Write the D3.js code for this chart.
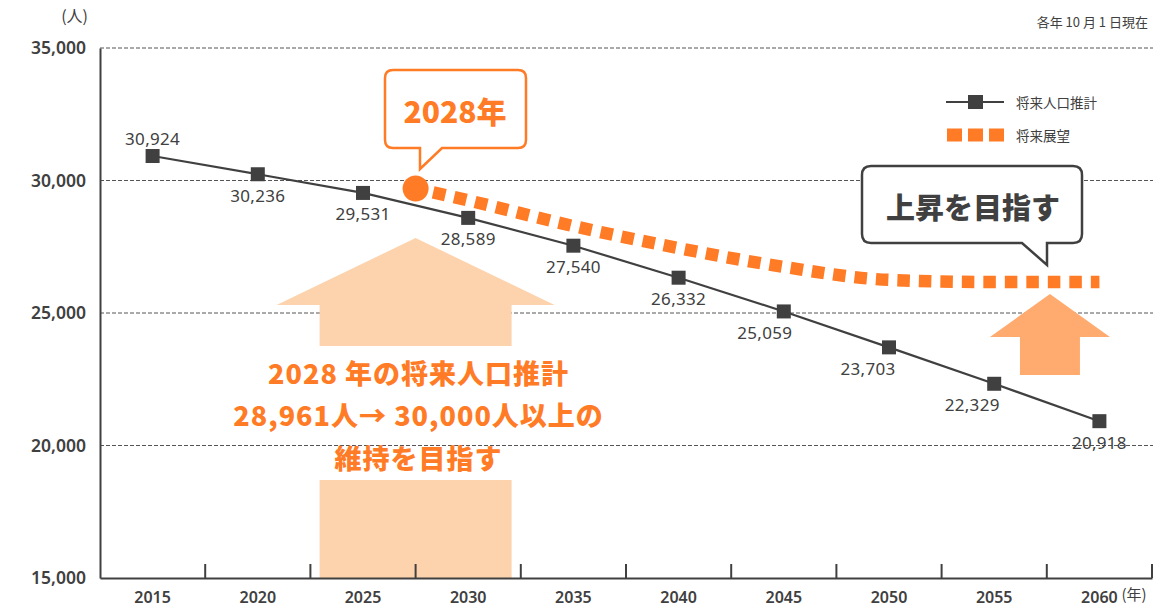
<!DOCTYPE html>
<html>
<head>
<meta charset="utf-8">
<script src="https://cdn.jsdelivr.net/npm/d3@7"></script>
<style>
  body { margin: 0; background: #fff; }
  text { font-family: "Noto Sans", "Noto Sans CJK JP", sans-serif; }
  .jp { font-family: "Noto Sans CJK JP", sans-serif; }
</style>
</head>
<body>
<div id="chart"></div>
<script>
// 将来人口推計 (black line)
const years = [2015, 2020, 2025, 2030, 2035, 2040, 2045, 2050, 2055, 2060];
const estimate = [30924, 30236, 29531, 28589, 27540, 26332, 25059, 23703, 22329, 20918];

// 将来展望 (orange dotted)
const outlookYears = [2027.5, 2030, 2035, 2040, 2045, 2050, 2055, 2060];
const outlook = [29700, 29250, 28280, 27450, 26740, 26250, 26170, 26170];

const yTicks = [15000, 20000, 25000, 30000, 35000];

const darkGray = "#404040";
const orange = "#ff7b25";

const width = 1153, height = 607;
const margin = { top: 48, right: 1, bottom: 29, left: 100 };

const svg = d3.select("#chart")
    .append("svg")
    .attr("width", width)
    .attr("height", height);

const x = d3.scaleBand()
    .domain(years)
    .range([margin.left, width - margin.right]);
const xc = d => x(d) + x.bandwidth() / 2;
// continuous year position for the outlook series
const xYear = d3.scaleLinear()
    .domain([years[0], years[years.length - 1]])
    .range([xc(years[0]), xc(years[years.length - 1])]);

const y = d3.scaleLinear()
    .domain([15000, 35000])
    .range([height - margin.bottom, margin.top]);

// gridlines
svg.append("g")
    .selectAll("line")
    .data(yTicks.slice(1))
    .join("line")
    .attr("x1", margin.left)
    .attr("x2", width)
    .attr("y1", d => y(d))
    .attr("y2", d => y(d))
    .attr("stroke", "#555")
    .attr("stroke-width", 1)
    .attr("stroke-dasharray", "4,2");

// big up arrows
const arrowL = xYear(2027.5);
const leftArrow = svg.append("g").attr("fill", "#fdd3ad");
leftArrow.append("path")
    .attr("d", `M${arrowL},238 L${arrowL + 139},305 L${arrowL + 96},305 L${arrowL + 96},346 L${arrowL - 96},346 L${arrowL - 96},305 L${arrowL - 139},305 Z`);
leftArrow.append("rect")
    .attr("x", arrowL - 96)
    .attr("y", 480)
    .attr("width", 192)
    .attr("height", y(15000) - 480);

const arrowR = xYear(2057.65);
svg.append("path")
    .attr("fill", "#ffab70")
    .attr("d", `M${arrowR},294 L${arrowR + 60},337 L${arrowR + 30},337 L${arrowR + 30},375 L${arrowR - 30},375 L${arrowR - 30},337 L${arrowR - 60},337 Z`);

// axes
const yAxis = svg.append("g")
    .attr("transform", `translate(${margin.left},0)`)
    .call(d3.axisLeft(y).tickValues(yTicks).tickFormat(d3.format(",")).tickSize(0).tickPadding(14));
yAxis.select(".domain").attr("stroke", darkGray).attr("stroke-width", 2);
yAxis.selectAll("text")
    .attr("fill", darkGray)
    .style("font-size", "17.5px")
    .style("font-weight", "600");

const xAxis = svg.append("g")
    .attr("transform", `translate(0,${y(15000)})`)
    .call(d3.axisBottom(x).tickSize(0).tickPadding(14));
xAxis.select(".domain").attr("stroke", darkGray).attr("stroke-width", 2);
xAxis.selectAll("text")
    .attr("fill", darkGray)
    .style("font-size", "16px")
    .style("font-weight", "600");

// boundary ticks
svg.append("g")
    .selectAll("line")
    .data(years)
    .join("line")
    .attr("x1", d => x(d) + x.bandwidth())
    .attr("x2", d => x(d) + x.bandwidth())
    .attr("y1", y(15000) - 14)
    .attr("y2", y(15000))
    .attr("stroke", darkGray)
    .attr("stroke-width", 2);

svg.append("text")
    .attr("class", "jp")
    .attr("x", xc(2060) + 22)
    .attr("y", y(15000) + 22)
    .attr("fill", darkGray)
    .style("font-size", "15px")
    .text("(年)");

svg.append("text")
    .attr("class", "jp")
    .attr("x", 88)
    .attr("y", 22)
    .attr("text-anchor", "end")
    .attr("fill", darkGray)
    .style("font-size", "16px")
    .text("(人)");

svg.append("text")
    .attr("class", "jp")
    .attr("x", 1148)
    .attr("y", 27)
    .attr("text-anchor", "end")
    .attr("fill", darkGray)
    .style("font-size", "13px")
    .text("各年 10 月 1 日現在");

// estimate line
const estData = years.map((d, i) => ({ year: d, value: estimate[i] }));
svg.append("path")
    .datum(estData)
    .attr("fill", "none")
    .attr("stroke", darkGray)
    .attr("stroke-width", 2.2)
    .attr("d", d3.line().x(d => xc(d.year)).y(d => y(d.value)));

svg.append("g")
    .selectAll("rect")
    .data(estData)
    .join("rect")
    .attr("x", d => xc(d.year) - 7)
    .attr("y", d => y(d.value) - 7)
    .attr("width", 14)
    .attr("height", 14)
    .attr("fill", darkGray);

const labelDx = [0, 0, 0, 0, 0, 0, -19, -21, -22, 0];
svg.append("g")
    .selectAll("text")
    .data(estData)
    .join("text")
    .attr("x", (d, i) => xc(d.year) + labelDx[i])
    .attr("y", (d, i) => y(d.value) + (i === 0 ? -18 : 21))
    .attr("dominant-baseline", "central")
    .attr("text-anchor", "middle")
    .attr("fill", darkGray)
    .style("font-size", "17px")
    .style("letter-spacing", "0.3px")
    .text(d => d3.format(",")(d.value));

// outlook dotted line
const outData = outlookYears.map((d, i) => ({ year: d, value: outlook[i] }));
svg.append("path")
    .datum(outData)
    .attr("fill", "none")
    .attr("stroke", orange)
    .attr("stroke-width", 12.5)
    .attr("stroke-dasharray", "12.5,9")
    .attr("stroke-dashoffset", -18)
    .attr("d", d3.line().curve(d3.curveMonotoneX).x(d => xYear(d.year)).y(d => y(d.value)));

svg.append("circle")
    .attr("cx", xYear(outData[0].year))
    .attr("cy", y(outData[0].value))
    .attr("r", 13)
    .attr("fill", orange);

// callout: 2028年
const c1 = svg.append("g");
c1.append("path")
    .attr("d", "M393,70 H518 Q526,70 526,78 V140 Q526,148 518,148 H442 L420,169 L420,148 H393 Q385,148 385,140 V78 Q385,70 393,70 Z")
    .attr("fill", "#fff")
    .attr("stroke", orange)
    .attr("stroke-width", 2.5);
c1.append("text")
    .attr("class", "jp")
    .attr("x", 455)
    .attr("y", 110)
    .attr("text-anchor", "middle")
    .attr("dominant-baseline", "central")
    .attr("fill", orange)
    .style("font-size", "30px")
    .style("font-weight", "900")
    .text("2028年");

// callout: 上昇を目指す
const c2 = svg.append("g");
c2.append("path")
    .attr("d", "M871,166 H1073 Q1082,166 1082,175 V234 Q1082,243 1073,243 H1047 L1047,265 L1022,243 H871 Q862,243 862,234 V175 Q862,166 871,166 Z")
    .attr("fill", "#fff")
    .attr("stroke", darkGray)
    .attr("stroke-width", 2.5);
c2.append("text")
    .attr("class", "jp")
    .attr("x", 973)
    .attr("y", 206)
    .attr("text-anchor", "middle")
    .attr("dominant-baseline", "central")
    .attr("fill", darkGray)
    .style("font-size", "29px")
    .style("font-weight", "900")
    .text("上昇を目指す");

// message text in the arrow
const msgLines = ["2028 年の将来人口推計", "28,961人→ 30,000人以上の", "維持を目指す"];
svg.append("g")
    .selectAll("text")
    .data(msgLines)
    .join("text")
    .attr("class", "jp")
    .attr("x", arrowL + 3)
    .attr("y", (d, i) => 372 + i * 42.5)
    .attr("text-anchor", "middle")
    .attr("dominant-baseline", "central")
    .attr("fill", orange)
    .style("font-size", "27px")
    .style("font-weight", "900")
    .style("letter-spacing", "1px")
    .text(d => d);

// legend
const lg = svg.append("g");
lg.append("line")
    .attr("x1", 946).attr("x2", 1004)
    .attr("y1", 102).attr("y2", 102)
    .attr("stroke", darkGray).attr("stroke-width", 2.2);
lg.append("rect")
    .attr("x", 968).attr("y", 95).attr("width", 15).attr("height", 14)
    .attr("fill", darkGray);
lg.append("line")
    .attr("x1", 947).attr("x2", 1004)
    .attr("y1", 135).attr("y2", 135)
    .attr("stroke", orange).attr("stroke-width", 13)
    .attr("stroke-dasharray", "15,6");
lg.selectAll("text")
    .data(["将来人口推計", "将来展望"])
    .join("text")
    .attr("class", "jp")
    .attr("x", 1016)
    .attr("y", (d, i) => 102 + i * 33)
    .attr("dominant-baseline", "central")
    .attr("fill", darkGray)
    .style("font-size", "13.5px")
    .text(d => d);
</script>
</body>
</html>
